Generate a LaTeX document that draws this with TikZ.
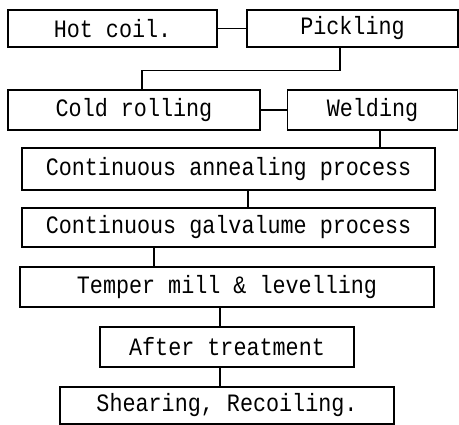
\documentclass[tikz,border=0pt]{standalone}
\usepackage{fontspec}
\setmonofont[FakeStretch=0.87]{Liberation Mono}
\begin{document}
\begin{tikzpicture}[x=1pt,y=-1pt,
	stage/.style={draw, line width=1.1pt, inner sep=0pt, minimum height=39pt, font=\ttfamily\fontsize{25}{27}\selectfont},
	link/.style={line width=1.1pt}]
		\useasboundingbox (0,0) rectangle (459,425);
		\node[stage, minimum width=209pt, minimum height=37pt] (hot) at (112.5,28.5) {Hot coil.};
		\node[stage, minimum width=211pt, minimum height=37pt] (pick) at (352.5,28.5) {Pickling};
		\node[stage, minimum width=252pt, minimum height=40pt] (cold) at (134,110) {Cold rolling};
		\node[stage, minimum width=170pt, minimum height=40pt] (weld) at (372.5,110) {Welding};
		\node[stage, minimum width=413pt, minimum height=42pt] (anneal) at (228.5,169) {Continuous annealing process};
		\node[stage, minimum width=413pt] (galv) at (228.5,227.5) {Continuous galvalume process};
		\node[stage, minimum width=414pt, minimum height=40pt] (temper) at (227,287) {Temper mill \& levelling};
		\node[stage, minimum width=254pt, minimum height=40pt] (after) at (227,347) {After treatment};
		\node[stage, minimum width=334pt, minimum height=37pt] (shear) at (227,405.5) {Shearing, Recoiling.};
		% joints between the stages
		\draw[link] (hot.east) -- (pick.west);
		\draw[link] ([xshift=-12.5pt]pick.south) -- ++(0,23) -| ([xshift=8pt]cold.north);
		\draw[link] (cold.east) -- (weld.west);
		\draw[link] ([xshift=7.5pt]weld.south) -- ([xshift=7.5pt]weld.south |- anneal.north);
		\draw[link] ([xshift=19.5pt]anneal.south) -- ([xshift=19.5pt]anneal.south |- galv.north);
		\draw[link] ([xshift=-74.5pt]galv.south) -- ([xshift=-74.5pt]galv.south |- temper.north);
		\draw[link] ([xshift=-7pt]temper.south) -- ([xshift=-7pt]temper.south |- after.north);
		\draw[link] ([xshift=-7pt]after.south) -- ([xshift=-7pt]after.south |- shear.north);
	\end{tikzpicture}
\end{document}
